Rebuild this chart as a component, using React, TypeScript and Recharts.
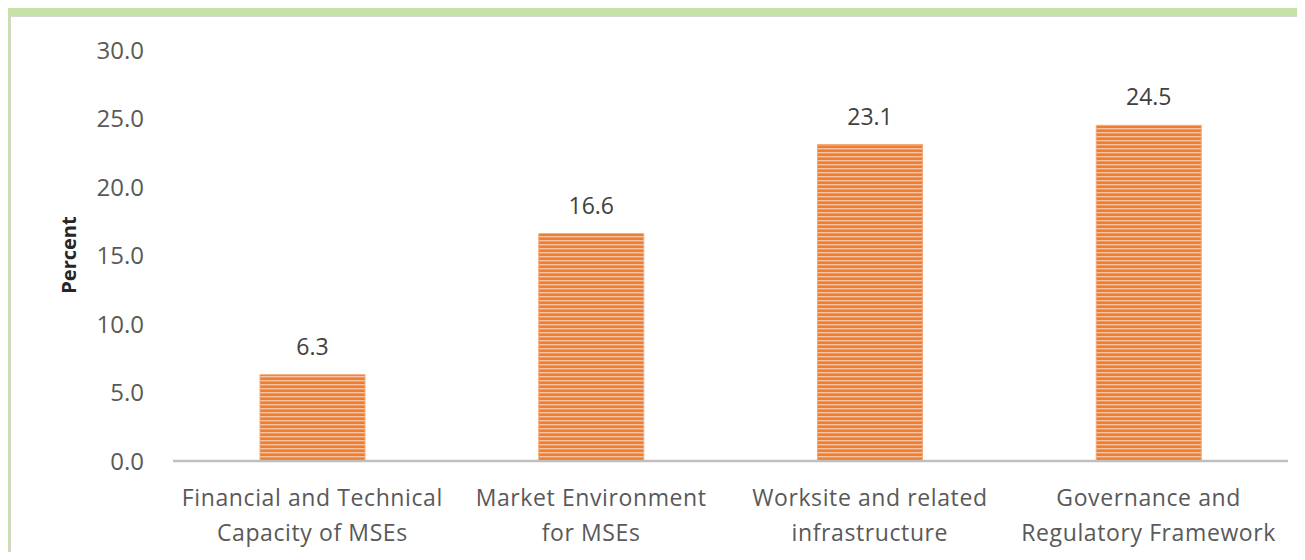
import { BarChart, Bar, XAxis, YAxis, LabelList } from 'recharts'

const categories = [
  'Financial and Technical\nCapacity of MSEs',
  'Market Environment\nfor MSEs',
  'Worksite and related\ninfrastructure',
  'Governance and\nRegulatory Framework',
]
const percents = [6.3, 16.6, 23.1, 24.5]
const yTicks = [0, 5, 10, 15, 20, 25, 30]

const data = categories.map((name, i) => ({ name, value: percents[i] }))

const FONT = '"Open Sans", "Noto Sans", sans-serif'
const TEXT = '#595959'

const CategoryTick = ({ x, y, payload }: any) => {
  const lines = String(payload.value).split('\n')
  return (
    <text x={x} y={y} textAnchor="middle" fill={TEXT} fontFamily={FONT} fontSize={23} letterSpacing={0.6}>
      {lines.map((l, i) => (
        <tspan key={i} x={x} dy={i === 0 ? 37 : 35}>
          {l}
        </tspan>
      ))}
    </text>
  )
}

const PercentLabel = () => (
  <text
    x={58}
    y={239}
    transform="rotate(-90 58 239)"
    textAnchor="middle"
    dominantBaseline="central"
    fill="#262626"
    fontFamily={FONT}
    fontWeight={700}
    fontSize={20}
  >
    Percent
  </text>
)

export default function App() {
  return (
    <div style={{ margin: -8, width: 1305, height: 560, background: '#c6e2a6', position: 'relative', overflow: 'hidden' }}>
      <div
        style={{
          position: 'absolute',
          left: 10,
          top: 16,
          width: 1295,
          height: 544,
          background: '#fff',
          borderTop: '1px solid #d6d6d6',
          borderLeft: '1px solid #d6d6d6',
          boxSizing: 'border-box',
        }}
      >
        <BarChart width={1295} height={544} data={data} margin={{ top: 34, right: 17, bottom: 69, left: 0 }} style={{ position: 'absolute', left: -1, top: -1 }}>
          <defs>
            <pattern id="stripes" width={8} height={4} patternUnits="userSpaceOnUse">
              <rect width={8} height={4} fill="#ED7D31" />
              <rect y={0} width={8} height={1.4} fill="#F7C3A0" />
            </pattern>
          </defs>
          <XAxis
            dataKey="name"
            interval={0}
            tick={<CategoryTick />}
            tickLine={false}
            axisLine={{ stroke: '#bfbfbf', strokeWidth: 2.5 }}
          />
          <YAxis
            width={163}
            domain={[0, 30]}
            ticks={yTicks}
            tickFormatter={(v: number) => v.toFixed(1)}
            axisLine={false}
            tickLine={false}
            tickMargin={23}
            tick={{ fill: TEXT, fontSize: 24, fontFamily: FONT }}
            label={<PercentLabel />}
          />
          <Bar dataKey="value" fill="url(#stripes)" stroke="#F4A877" strokeWidth={1} barSize={105} isAnimationActive={false}>
            <LabelList
              dataKey="value"
              position="top"
              offset={20}
              formatter={(v: any) => Number(v).toFixed(1)}
              style={{ fill: '#404040', fontSize: 23, fontFamily: FONT }}
            />
          </Bar>
        </BarChart>
      </div>
    </div>
  )
}
